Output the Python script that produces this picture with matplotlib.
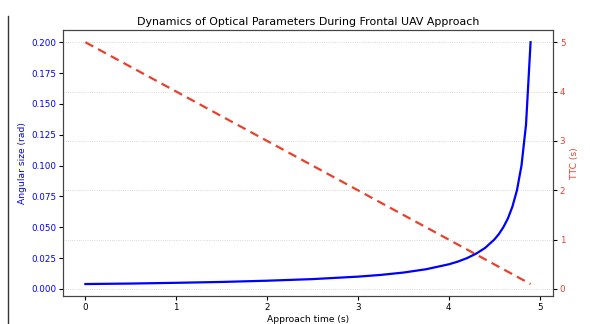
import matplotlib
matplotlib.use("Agg")
import matplotlib.pyplot as plt
from matplotlib.lines import Line2D

# data
t = [0.0, 0.5, 1.0, 1.5, 2.0, 2.5, 3.0, 3.25, 3.5, 3.75, 4.0, 4.1, 4.2, 4.3,
     4.4, 4.5, 4.55, 4.6, 4.65, 4.7, 4.75, 4.8, 4.85, 4.9]
angle = [0.0040, 0.0044, 0.0050, 0.0057, 0.0067, 0.0080, 0.0100, 0.0114,
         0.0133, 0.0160, 0.0200, 0.0222, 0.0250, 0.0286, 0.0333, 0.0400,
         0.0444, 0.0500, 0.0571, 0.0667, 0.0800, 0.1000, 0.1333, 0.2000]
ttc = [5.0, 4.5, 4.0, 3.5, 3.0, 2.5, 2.0, 1.75, 1.5, 1.25, 1.0, 0.9, 0.8, 0.7,
       0.6, 0.5, 0.45, 0.4, 0.35, 0.3, 0.25, 0.2, 0.15, 0.1]

blue = 'blue'
red = '#e8412c'

fig = plt.figure(figsize=(5.9, 3.24), dpi=100)
ax1 = fig.add_axes([0.107, 0.086, 0.83, 0.821])
ax2 = ax1.twinx()

ax1.plot(t, angle, color=blue, linewidth=1.6, zorder=3)
ax2.plot(t, ttc, color=red, linewidth=1.6, linestyle='--', dashes=(4, 2.5))

ax2.grid(True, linestyle=':', linewidth=0.6, color='#cccccc')

ax1.set_xlabel("Approach time (s)", fontsize=6.6, labelpad=2)
ax1.set_ylabel("Angular size (rad)", color=blue, fontsize=6.6, labelpad=3)
ax2.set_ylabel("TTC (s)", color=red, fontsize=6.6, labelpad=3)
ax1.set_title("Dynamics of Optical Parameters During Frontal UAV Approach",
              fontsize=7.9, pad=4)

ax1.tick_params(axis='y', labelcolor=blue, labelsize=6.3, length=3, pad=2)
ax1.tick_params(axis='x', labelsize=6.3, length=3, pad=2)
ax2.tick_params(axis='y', labelcolor=red, labelsize=6.3, length=3, pad=2)

for ax in (ax1, ax2):
    for s in ax.spines.values():
        s.set_color('#444444')

ax1.set_zorder(ax2.get_zorder() + 1)
ax1.patch.set_visible(False)

# stray border line at the left edge of the original screenshot
fig.add_artist(Line2D([8 / 590, 8 / 590], [0, 1 - 16 / 324],
                      color='#333333', linewidth=1))

plt.savefig("out.png", dpi=100)
